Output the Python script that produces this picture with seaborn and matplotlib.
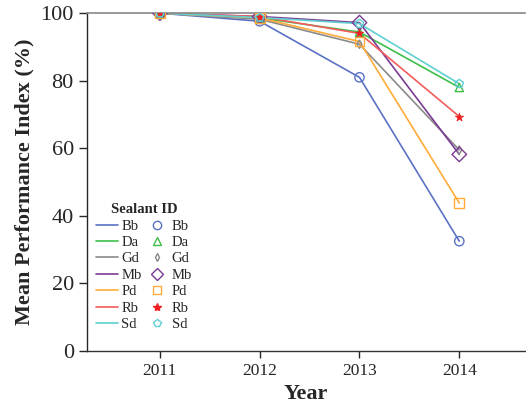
import matplotlib
matplotlib.use('Agg')
import matplotlib.pyplot as plt
import seaborn as sns
import pandas as pd
from matplotlib.lines import Line2D

# data
years = [2011, 2012, 2013, 2014]
sealants = ['Bb', 'Da', 'Gd', 'Mb', 'Pd', 'Rb', 'Sd']
bb = [100, 97.6, 81.0, 32.5]
da = [100, 98.6, 94.4, 78.0]
gd = [100, 98.2, 90.8, 59.5]
mb = [100, 99.0, 97.2, 58.2]
pd_ = [100, 98.6, 91.6, 43.8]
rb = [100, 99.0, 94.0, 69.4]
sd = [100, 98.7, 96.9, 79.1]

colors = ['#5a72c4', '#3dbf4a', '#8a8a8a', '#7b3b94', '#ffab3a', '#f25c5c', '#5fcfd2']
markers = ['o', '^', 'd', 'D', 's', '*', 'p']
msizes = [45, 35, 18, 55, 50, 40, 40]

rows = []
for name, vals in zip(sealants, [bb, da, gd, mb, pd_, rb, sd]):
    for y, v in zip(years, vals):
        rows.append({'Year': y, 'MPI': v, 'Sealant ID': name})
df = pd.DataFrame(rows)

sns.set_style('ticks')
plt.rcParams['font.family'] = ['Liberation Serif', 'DejaVu Serif']

fig = plt.figure(figsize=(5.26, 4.11), dpi=100)
ax = fig.add_axes([0.1654, 0.146, 0.833, 0.822])

pal = dict(zip(sealants, colors))
sns.lineplot(data=df, x='Year', y='MPI', hue='Sealant ID', palette=pal,
             linewidth=1.2, legend=False, ax=ax)
for name, c, m, s in zip(sealants, colors, markers, msizes):
    sub = df[df['Sealant ID'] == name]
    if m == '*':
        sns.scatterplot(data=sub, x='Year', y='MPI', color='#f02020', marker=m,
                        s=s, edgecolor='#f02020', legend=False, ax=ax, zorder=3)
    else:
        sns.scatterplot(data=sub, x='Year', y='MPI', marker=m, s=s,
                        facecolor='none', edgecolor=c, linewidth=1.0,
                        legend=False, ax=ax, zorder=3)

ax.set_xlim(2010.27, 2014.66)
ax.set_ylim(0, 100)
ax.set_xticks(years)
ax.set_yticks([0, 20, 40, 60, 80, 100])
ax.tick_params(axis='x', labelsize=12.5, length=5, width=1, direction='out')
ax.tick_params(axis='y', labelsize=16, length=6, width=1, direction='out')
ax.set_xlabel('Year', fontsize=16, fontweight='bold')
ax.set_ylabel('Mean Performance Index (%)', fontsize=16, fontweight='bold')

ax.spines['right'].set_visible(False)
ax.spines['top'].set_color('#888888')
ax.spines['top'].set_linewidth(1.2)
ax.spines['left'].set_linewidth(1)
ax.spines['bottom'].set_linewidth(1)
ax.spines['bottom'].set_color('#333333')

# legend: lines column, then markers column
handles = [Line2D([], [], color=c, lw=1.2) for c in colors]
for c, m in zip(colors, markers):
    if m == '*':
        handles.append(Line2D([], [], ls='', marker=m, color='#f02020', ms=6))
    else:
        handles.append(Line2D([], [], ls='', marker=m, mfc='none', mec=c,
                              ms=6 if m != 'd' else 4))
labels = sealants + sealants
leg = ax.legend(handles, labels, ncol=2, title='Sealant ID', loc='lower left',
                bbox_to_anchor=(-0.01, 0.02), frameon=False, fontsize=10.5,
                title_fontproperties={'weight': 'bold', 'size': 10.5},
                handlelength=1.5, handletextpad=0.25, columnspacing=0.3,
                labelspacing=0.22)

fig.savefig('out.png', dpi=100)
